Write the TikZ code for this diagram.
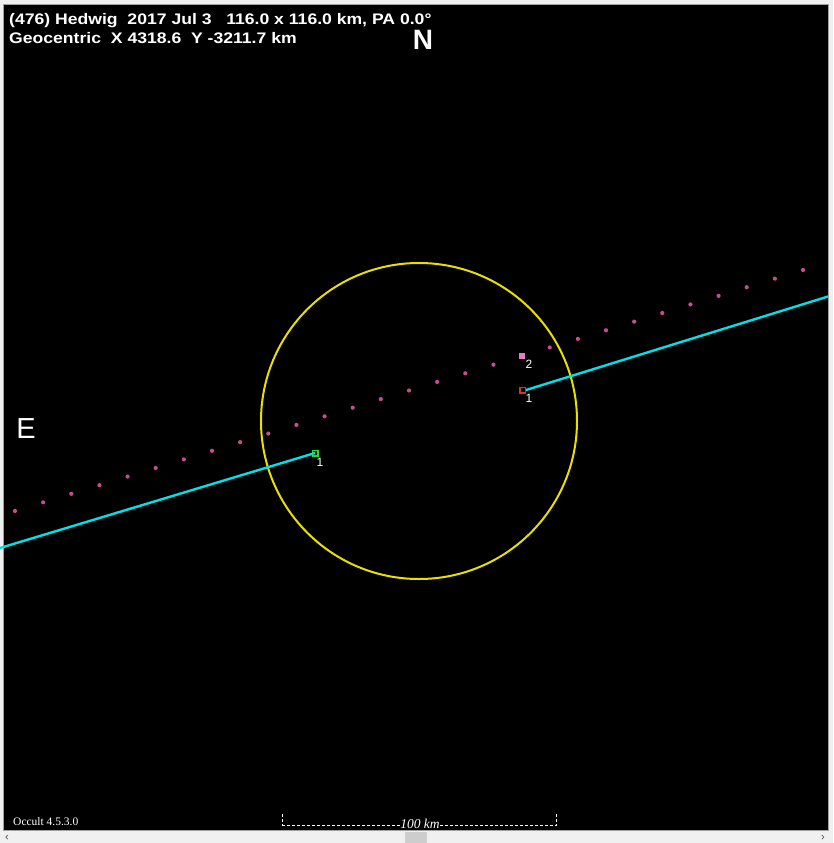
\documentclass[tikz,border=0pt]{standalone}
\usepackage{fontspec}
\setmainfont{Liberation Sans}
\newfontfamily\seriffont{Liberation Serif}
\newfontfamily\hdrfont[FakeStretch=1.15]{Liberation Sans}
\definecolor{guibg}{HTML}{F0F0F0}
\definecolor{guiedge}{HTML}{A0A0A0}
\definecolor{thumb}{HTML}{CDCDCD}
\definecolor{chordc}{HTML}{00E0E8}
\definecolor{limbc}{HTML}{E8E000}
\definecolor{dotc}{HTML}{C84C90}
\definecolor{sq2}{HTML}{E080C0}
\definecolor{sqred}{HTML}{E03020}
\definecolor{sqgreen}{HTML}{20E020}
\tikzset{
  chord/.style={draw=chordc, line width=2.4pt},
  limb/.style={draw=limbc, line width=2pt},
  pathdot/.style={fill=dotc},
  marksq/.style={draw, line width=1.5pt, minimum size=5.5pt, inner sep=0pt},
  lbl/.style={text=white, font=\fontsize{12}{12}\selectfont, inner sep=0pt},
  hdr/.style={text=white, font=\hdrfont\fontsize{15.3}{17}\bfseries\selectfont, inner sep=0pt, anchor=base west},
  scalebar/.style={draw=white, line width=0.8pt, dash pattern=on 3pt off 2pt},
}
\begin{document}
\begin{tikzpicture}[x=1pt,y=-1pt]
\useasboundingbox (0,0) rectangle (833,843);
\fill[guibg] (0,0) rectangle (833,843);
\fill[black] (3,4) rectangle (828,830);
\draw[guiedge, line width=0.6pt] (3,4) rectangle (828,830);
% scrollbar
\fill[thumb] (405,832) rectangle (427,843);
\node[text=black!70, font=\fontsize{11}{11}\selectfont, inner sep=0pt] (sl) at (7,838) {‹};
\node[text=black!70, font=\fontsize{11}{11}\selectfont, inner sep=0pt] (sr) at (823,838) {›};
% asteroid limb
\node[limb, circle, minimum size=316pt, inner sep=0pt] (limbc) at (419,421) {};
% predicted path dots
\foreach \i in {0,...,28}{
  \ifnum\i=18\relax\else
    \fill[pathdot] ({15+\i*28.143},{511-\i*8.607}) circle (2.1);
  \fi
}
% observers
\node[marksq, draw=sqgreen] (g1) at (315,453) {};
\node[marksq, draw=sqred] (r1) at (522.5,390) {};
\node[marksq, draw=sq2, fill=sq2, minimum size=5pt, line width=1pt] (p2) at (522,355.5) {};
\coordinate (lend) at (0,548);
\coordinate (rend) at (828,296.5);
\draw[chord] (lend) -- (g1.center);
\draw[chord] (r1.east) -- (rend);
\node[lbl] (l1) at (320,462) {1};
\node[lbl] (l2) at (529,398) {1};
\node[lbl] (l3) at (529,364) {2};
% headers
\node[hdr] (t1) at (9,24.5) {(476) Hedwig\ \ 2017 Jul 3\ \ \ 116.0 x 116.0 km, PA 0.0°};
\node[hdr] (t2) at (9,44) {Geocentric\ \ X 4318.6\ \ Y -3211.7 km};
\node[text=white, font=\fontsize{28}{30}\bfseries\selectfont, inner sep=0pt] (N) at (423,39.5) {N};
\node[text=white, font=\fontsize{29}{30}\selectfont, inner sep=0pt] (E) at (26,428.5) {E};
% footer
\node[text=white, font=\seriffont\fontsize{11.5}{12}\selectfont, inner sep=0pt, anchor=base west] (occ) at (13,825) {Occult 4.5.3.0};
\node[text=white, font=\seriffont\itshape\fontsize{13.5}{14}\selectfont, inner sep=0.5pt] (km) at (420,824) {100 km};
\coordinate (sbl) at (282,825.5);
\coordinate (sbr) at (556,825.5);
\coordinate (sbtl) at (282,814);
\coordinate (sbtr) at (556,814);
\draw[scalebar] (sbtl) -- (sbl);
\draw[scalebar] (sbtr) -- (sbr);
\draw[scalebar] (sbl) -- (sbl -| km.west);
\draw[scalebar] (sbr -| km.east) -- (sbr);
\end{tikzpicture}
\end{document}
